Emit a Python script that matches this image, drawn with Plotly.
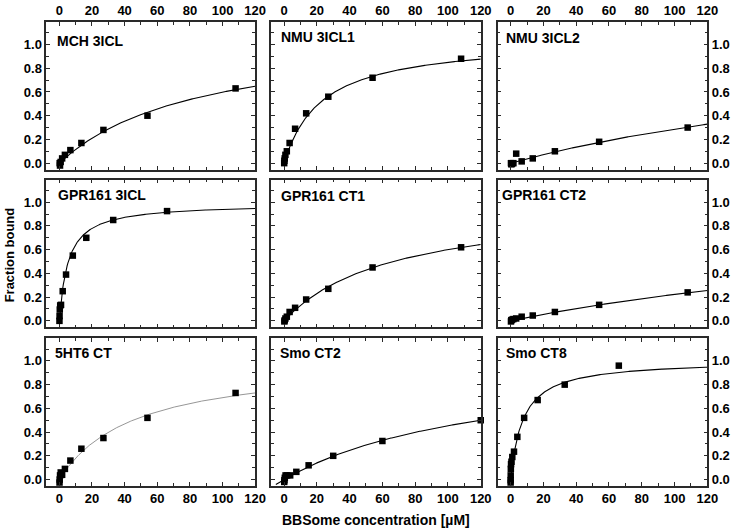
import numpy as np
import plotly.graph_objects as go

# ---------------- data ----------------
panel_names = ["MCH 3ICL", "NMU 3ICL1", "NMU 3ICL2",
               "GPR161 3ICL", "GPR161 CT1", "GPR161 CT2",
               "5HT6 CT", "Smo CT2", "Smo CT8"]

mch_x = [108, 54, 27, 13.5, 6.75, 3.4, 1.7, 0.8, 0.4, 0.2]
mch_y = [0.63, 0.40, 0.28, 0.17, 0.11, 0.07, 0.04, 0.01, -0.02, 0.00]

nmu1_x = [108, 54, 27, 13.5, 6.75, 3.4, 1.7, 0.84, 0.42, 0.21, 0.1]
nmu1_y = [0.88, 0.72, 0.56, 0.42, 0.29, 0.17, 0.10, 0.07, 0.04, 0.02, 0.0]

nmu2_x = [108, 54, 27, 13.5, 6.75, 3.4, 1.7, 0.84, 0.42, 0.21]
nmu2_y = [0.30, 0.18, 0.10, 0.04, 0.015, 0.08, 0.0, -0.005, -0.01, 0.0]

gpr3_x = [66, 33, 16.5, 8.25, 4.1, 2.06, 1.03, 0.52, 0.26, 0.13, 0.06]
gpr3_y = [0.925, 0.85, 0.70, 0.55, 0.39, 0.25, 0.135, 0.13, 0.095, 0.04, 0.0]

ct1_x = [108, 54, 27, 13.5, 6.75, 3.4, 1.7, 0.84, 0.42, 0.21]
ct1_y = [0.62, 0.45, 0.27, 0.18, 0.11, 0.075, 0.035, 0.02, 0.005, -0.005]

ct2_x = [108, 54, 27, 13.5, 6.75, 3.4, 1.7, 0.84, 0.42, 0.21]
ct2_y = [0.24, 0.135, 0.075, 0.045, 0.035, 0.02, 0.015, 0.01, 0.005, -0.005]

ht6_x = [108, 54, 27, 13.5, 6.75, 3.4, 1.7, 0.84, 0.42, 0.21, 0.1]
ht6_y = [0.73, 0.52, 0.35, 0.26, 0.16, 0.09, 0.04, 0.06, 0.035, 0.0, -0.025]

smo2_x = [120, 60, 30, 15, 7.5, 3.75, 1.9, 0.94, 0.47, 0.23, 0.12]
smo2_y = [0.50, 0.325, 0.20, 0.12, 0.065, 0.035, 0.035, 0.035, 0.015, -0.005, -0.02]

smo8_x = [66, 33, 16.5, 8.25, 4.1, 2.06, 1.03, 0.52, 0.26, 0.13, 0.06, 0.03, 0.015]
smo8_y = [0.96, 0.80, 0.67, 0.52, 0.36, 0.235, 0.19, 0.15, 0.13, 0.09, 0.035, -0.005, -0.025]

# one-site binding fit parameters: Bmax, Kd, start of fitted line
fit_bmax = [1.11, 1.045, 1.15, 0.99, 1.0, 0.96, 1.01, 1.03, 1.006]
fit_kd = [85.5, 23.0, 300.0, 5.4, 66.5, 330.0, 46.0, 127.0, 7.5]
fit_start = [0, 0, 0, 0, 0, 0, 0, -5, 0]

x_ticks = [0, 20, 40, 60, 80, 100, 120]
y_ticks = [0.0, 0.2, 0.4, 0.6, 0.8, 1.0]

xs_all = [mch_x, nmu1_x, nmu2_x, gpr3_x, ct1_x, ct2_x, ht6_x, smo2_x, smo8_x]
ys_all = [mch_y, nmu1_y, nmu2_y, gpr3_y, ct1_y, ct2_y, ht6_y, smo2_y, smo8_y]

# ---------------- layout geometry ----------------
W, H = 741, 532
col_px = [(47, 259), (275, 488), (505, 718)]
row_px = [(22, 170), (180, 328), (339, 487)]
label_dx = [9, 8, 7, 10, 8, 3, 7, 7, 7]
label_dy = [19, 15, 16, 15, 16, 15, 15, 15, 15]

AX = "#2a2a2a"
tickfont = dict(family="Arial", size=13, color="black", weight="bold")

fig = go.Figure()
layout = {}
annotations = []
for i in range(9):
    r, c = divmod(i, 3)
    n = i + 1
    xs = "x" if n == 1 else f"x{n}"
    ys = "y" if n == 1 else f"y{n}"
    xk = "xaxis" if n == 1 else f"xaxis{n}"
    yk = "yaxis" if n == 1 else f"yaxis{n}"

    cx = np.linspace(fit_start[i], 120, 300)
    cy = fit_bmax[i] * cx / (fit_kd[i] + cx)
    lc = "#8a8a8a" if i == 6 else "black"
    lw = 0.9 if i == 6 else 1.1
    fig.add_trace(go.Scatter(x=cx, y=cy, mode="lines", line=dict(color=lc, width=lw),
                             xaxis=xs, yaxis=ys, showlegend=False, hoverinfo="skip"))
    fig.add_trace(go.Scatter(x=xs_all[i], y=ys_all[i], mode="markers",
                             marker=dict(symbol="square", size=6.5, color="black"),
                             xaxis=xs, yaxis=ys, showlegend=False, cliponaxis=False))

    x0, x1 = col_px[c]
    y0, y1 = row_px[r]
    layout[xk] = dict(
        domain=[x0 / W, x1 / W], range=[-8, 120], anchor=ys,
        side="top" if r == 0 else "bottom", showticklabels=(r != 1),
        tickmode="array", tickvals=x_ticks, ticktext=[str(v) for v in x_ticks],
        ticks="inside", ticklen=4, tickwidth=1.2, tickcolor=AX,
        minor=dict(dtick=10, tick0=0, ticks="inside", ticklen=3, tickwidth=1.2, tickcolor=AX),
        showline=True, linecolor=AX, linewidth=1.6, mirror="ticks",
        showgrid=False, zeroline=False, tickfont=tickfont, fixedrange=True)
    layout[yk] = dict(
        domain=[1 - y1 / H, 1 - y0 / H], range=[-0.055, 1.19], anchor=xs,
        side="right" if c == 2 else "left", showticklabels=(c != 1),
        tickmode="array", tickvals=y_ticks, ticktext=[f"{v:.1f}" for v in y_ticks],
        ticks="inside", ticklen=4, tickwidth=1.2, tickcolor=AX,
        minor=dict(dtick=0.1, tick0=0, ticks="inside", ticklen=3, tickwidth=1.2, tickcolor=AX),
        showline=True, linecolor=AX, linewidth=1.6, mirror="ticks",
        showgrid=False, zeroline=False, tickfont=tickfont, fixedrange=True)

    annotations.append(dict(
        text=panel_names[i], xref="paper", yref="paper",
        x=(x0 + label_dx[i]) / W, y=1 - (y0 + label_dy[i]) / H,
        xanchor="left", yanchor="middle", showarrow=False,
        font=dict(family="Arial", size=14, color="black", weight="bold")))

annotations.append(dict(text="BBSome concentration [µM]", xref="paper", yref="paper",
                        x=382 / W, y=1 - 521 / H, xanchor="center", yanchor="middle",
                        showarrow=False,
                        font=dict(family="Arial", size=14, color="black", weight="bold")))
annotations.append(dict(text="Fraction bound", xref="paper", yref="paper",
                        x=10 / W, y=1 - 255 / H, xanchor="center", yanchor="middle",
                        textangle=-90, showarrow=False,
                        font=dict(family="Arial", size=13, color="black", weight="bold")))

fig.update_layout(width=W, height=H, autosize=False,
                  margin=dict(l=0, r=0, t=0, b=0),
                  paper_bgcolor="white", plot_bgcolor="white",
                  annotations=annotations, **layout)

fig.write_html("out.html", config={"displayModeBar": False},
               post_script="document.body.style.margin='0';document.body.style.overflow='hidden';")
